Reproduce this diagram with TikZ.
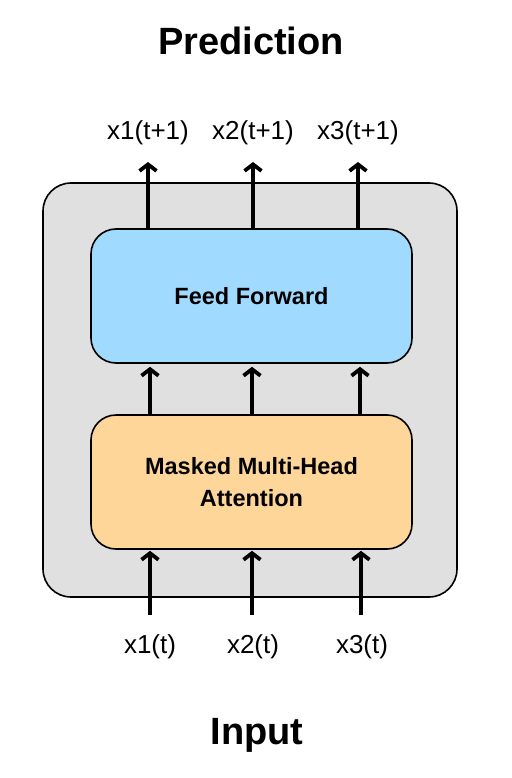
\documentclass[tikz,border=0pt]{standalone}
\usepackage{fontspec}
\setmainfont{Liberation Sans}
\usetikzlibrary{arrows.meta}
\definecolor{outerfill}{RGB}{224,224,224}
\definecolor{fffill}{RGB}{160,218,255}
\definecolor{attfill}{RGB}{255,214,153}
\tikzset{
  box/.style={draw=black, line width=1.6pt, rounded corners=25pt, inner sep=0pt, font=\fontsize{23.5}{32}\selectfont\bfseries, align=center},
  arr/.style={line width=3.8pt, -{Straight Barb[length=6.5pt,width=17pt]}},
  lab/.style={font=\fontsize{26}{30}\selectfont, inner sep=0pt},
  ttl/.style={font=\fontsize{38}{44}\selectfont\bfseries, inner sep=0pt}
}
\begin{document}
\begin{tikzpicture}[x=1pt,y=-1pt]
\useasboundingbox[fill=white] (0,0) rectangle (511,778);
\node[draw=black, line width=1.6pt, rounded corners=28pt, fill=outerfill, minimum width=414pt, minimum height=414pt, inner sep=0pt] (outer) at (250,390) {};
\node[box, fill=fffill, minimum width=321pt, minimum height=134pt] (ff) at (251.5,296) {Feed Forward};
\node[box, fill=attfill, minimum width=321pt, minimum height=134pt] (att) at (251.5,482) {Masked Multi-Head\\Attention};
\node[ttl] (pred) at (251,41) {Prediction};
\node[ttl] (inp) at (257,735) {Input};
\node[lab] (o1) at (148,133) {x1(t+1)};
\node[lab] (o2) at (253,133) {x2(t+1)};
\node[lab] (o3) at (358,133) {x3(t+1)};
\node[lab] (i1) at (150,647) {x1(t)};
\node[lab] (i2) at (253,647) {x2(t)};
\node[lab] (i3) at (362,647) {x3(t)};
\coordinate (t1) at (148,162);
\coordinate (t2) at (253,162);
\coordinate (t3) at (358,162);
\coordinate (b1) at (150,615);
\coordinate (b2) at (252,615);
\coordinate (b3) at (361,615);
\coordinate (m1) at (150,0);
\coordinate (m2) at (252,0);
\coordinate (m3) at (360,0);
\draw[arr] (ff.north -| t1) -- (t1);
\draw[arr] (ff.north -| t2) -- (t2);
\draw[arr] (ff.north -| t3) -- (t3);
\draw[arr, shorten >=3pt] (att.north -| m1) -- (ff.south -| m1);
\draw[arr, shorten >=3pt] (att.north -| m2) -- (ff.south -| m2);
\draw[arr, shorten >=3pt] (att.north -| m3) -- (ff.south -| m3);
\draw[arr, shorten >=1pt] (b1) -- (att.south -| b1);
\draw[arr, shorten >=1pt] (b2) -- (att.south -| b2);
\draw[arr, shorten >=1pt] (b3) -- (att.south -| b3);
\end{tikzpicture}
\end{document}
